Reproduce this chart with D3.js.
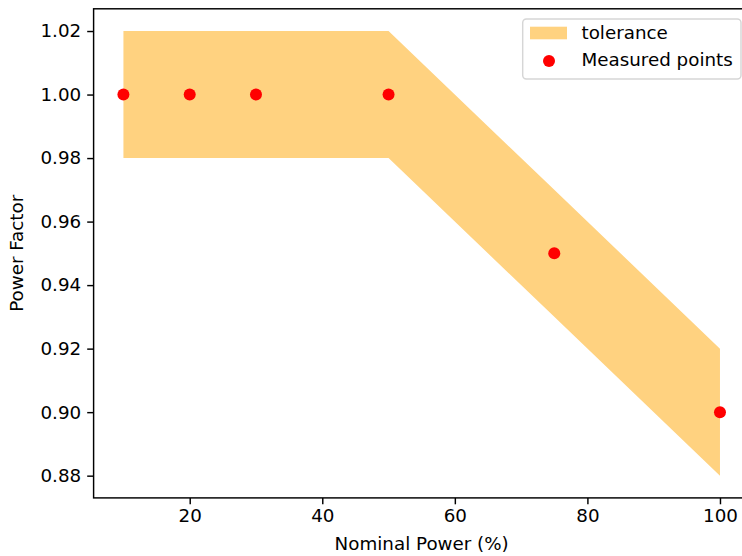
<!DOCTYPE html>
<html><head><meta charset="utf-8">
<script src="https://cdn.jsdelivr.net/npm/d3@7"></script>
<style>body{margin:0;background:#fff}svg{display:block}text{font-family:"DejaVu Sans",sans-serif}</style>
</head><body>
<svg id="c" width="742" height="556"></svg>
<script>
const nominalPower = [10, 20, 30, 50, 75, 100];
const measuredPF = [1.00, 1.00, 1.00, 1.00, 0.95, 0.90];
const toleranceLow = [0.98, 0.98, 0.98, 0.98, 0.93, 0.88];
const toleranceHigh = [1.02, 1.02, 1.02, 1.02, 0.97, 0.92];
const xTicks = [20, 40, 60, 80, 100];
const yTicks = [0.88, 0.90, 0.92, 0.94, 0.96, 0.98, 1.00, 1.02];

const svg = d3.select("#c");
const L = 93.6, T = 8.8, B = 497.9, R = 749.8;
const x = d3.scaleLinear().domain([5.5, 104.5]).range([L, R]);
const y = d3.scaleLinear().domain([0.873, 1.027]).range([B, T]);
const fs = 18.3;

const band = nominalPower.map((p, i) => ({x: p, lo: toleranceLow[i], hi: toleranceHigh[i]}));
svg.append("path").datum(band)
  .attr("d", d3.area().x(d => x(d.x)).y0(d => y(d.lo)).y1(d => y(d.hi)))
  .attr("fill", "#ffd280");

svg.selectAll("circle.pt").data(nominalPower).join("circle")
  .attr("class", "pt")
  .attr("cx", d => x(d)).attr("cy", (d, i) => y(measuredPF[i]))
  .attr("r", 6).attr("fill", "#ff0000");

const xAxis = svg.append("g").attr("transform", `translate(0,${B})`)
  .call(d3.axisBottom(x).tickValues(xTicks).tickSize(6.4).tickPadding(5).tickFormat(d3.format("d")));
const yAxis = svg.append("g").attr("transform", `translate(${L},0)`)
  .call(d3.axisLeft(y).tickValues(yTicks).tickSize(6.4).tickPadding(6).tickFormat(d3.format(".2f")));
[xAxis, yAxis].forEach(g => {
  g.select(".domain").remove();
  g.selectAll(".tick line").attr("stroke", "#000").attr("stroke-width", 1.45);
  g.selectAll(".tick text").attr("fill", "#000").style("font-size", fs + "px").style("font-family", "DejaVu Sans");
});
xAxis.selectAll(".tick text").attr("dy", "0.71em");

// spines
svg.append("rect").attr("x", L).attr("y", T).attr("width", R - L).attr("height", B - T)
  .attr("fill", "none").attr("stroke", "#000").attr("stroke-width", 1.45);

svg.append("text").attr("x", (L + R) / 2).attr("y", 550).attr("text-anchor", "middle")
  .style("font-size", fs + "px").text("Nominal Power (%)");
svg.append("text").attr("transform", `translate(23,${(T + B) / 2}) rotate(-90)`)
  .attr("text-anchor", "middle").style("font-size", fs + "px").text("Power Factor");

// legend
const lg = svg.append("g");
lg.append("rect").attr("x", 522.7).attr("y", 19).attr("width", 218.3).attr("height", 60)
  .attr("rx", 3.7).attr("fill", "#fff").attr("fill-opacity", 0.8)
  .attr("stroke", "#d6d6d6").attr("stroke-width", 1.45);
lg.append("rect").attr("x", 530).attr("y", 26.7).attr("width", 37).attr("height", 12.6).attr("fill", "#ffd280");
lg.append("circle").attr("cx", 549).attr("cy", 61).attr("r", 6).attr("fill", "#ff0000");
lg.append("text").attr("x", 581.5).attr("y", 39).style("font-size", fs + "px").text("tolerance");
lg.append("text").attr("x", 581.5).attr("y", 66).style("font-size", fs + "px").text("Measured points");
</script>
</body></html>
